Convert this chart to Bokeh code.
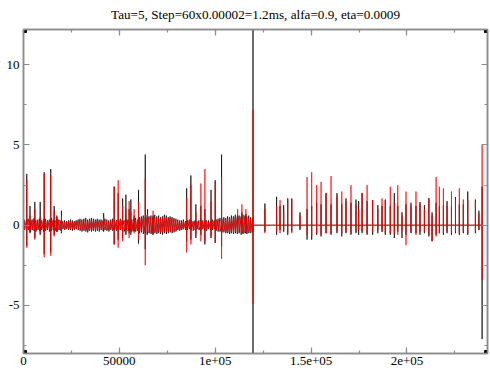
from bokeh.plotting import figure
from bokeh.models import Range1d, LinearAxis, SingleIntervalTicker, CustomJSTickFormatter
from bokeh.embed import file_html
from bokeh.resources import INLINE
import numpy as np

# ---------------- data ----------------
title_text = "Tau=5, Step=60x0.00002=1.2ms, alfa=0.9, eta=0.0009"
x_min, x_max = 0, 242000
y_min, y_max = -8.0, 12.2
x_tick_values = [0, 50000, 100000, 150000, 200000]
x_tick_labels = ["0", "50000", "1e+05", "1.5e+05", "2e+05"]
y_tick_values = [-5, 0, 5, 10]
y_tick_labels = ["-5", "0", "5", "10"]

# spike events (sample index), with peak / trough of each series
spike_x = [1700, 3400, 5900, 8700, 10800, 14200, 16000, 17400, 19800, 41800,
           47300, 49400, 51700, 53400, 55100, 56000, 57700, 60000, 63500, 64700,
           67600, 85100, 87300, 89900, 92500, 94600, 97800, 100000, 103300, 111700,
           113900, 116000, 119700, 125900, 132000, 133800, 135700, 137800, 139900, 144200,
           147900, 150300, 152900, 155200, 157800, 160400, 163500, 166000, 168200, 170800,
           173400, 174800, 176600, 179200, 182100, 184800, 187000, 188700, 191300, 193400,
           195200, 197400, 199500, 202100, 204700, 206800, 209100, 211400, 213100, 215200,
           216900, 219000, 220900, 223200, 225300, 227300, 229400, 231700, 235700, 237500,
           239200]
black_hi = [3.2, 1.2, 1.45, 1.45, 3.3, 3.5, 1.2, 0.6, 0.9, 0.75,
            2.4, 2.0, 1.67, 1.9, 1.0, 1.6, 0.6, 2.2, 4.4, 1.0,
            0.6, 2.3, 3.1, 1.3, 1.2, 1.0, 2.2, 2.8, 4.4, 0.6,
            0.8, 0.7, 14.0, 1.35, 1.77, 1.2, 1.25, 1.67, 1.67, 0.8,
            1.0, 1.2, 1.4, 1.3, 2.0, 1.3, 2.0, 1.3, 1.67, 1.4,
            1.6, 1.5, 2.0, 1.5, 1.56, 1.25, 1.2, 1.6, 1.2, 2.0,
            1.2, 0.8, 1.3, 1.4, 1.2, 1.45, 1.25, 1.7, 0.8, 1.4,
            1.2, 1.25, 1.5, 1.2, 1.75, 1.3, 1.3, 2.1, 1.6, 0.9,
            2.4]
black_lo = [-1.3, -0.5, -0.8, -0.6, -1.8, -1.7, -0.6, -0.4, -0.5, -0.4,
            -1.2, -0.9, -0.8, -0.6, -0.5, -0.6, -0.4, -1.15, -1.5, -0.5,
            -0.5, -1.0, -0.9, -0.8, -0.6, -1.2, -0.8, -1.1, -1.3, -0.4,
            -0.5, -0.5, -10.0, -0.4, -0.6, -0.3, -0.4, -0.6, -0.4, -0.3,
            -0.9, -0.9, -0.6, -0.7, -0.5, -0.6, -0.5, -0.7, -0.5, -0.6,
            -0.5, -0.6, -0.5, -0.6, -0.6, -0.5, -0.4, -0.6, -0.6, -0.8,
            -0.4, -0.8, -0.6, -0.5, -0.5, -0.6, -0.5, -0.7, -1.0, -0.6,
            -0.5, -0.6, -0.5, -0.6, -0.5, -0.6, -0.5, -0.6, -0.5, -0.3,
            -7.1]
red_hi = [2.8, 0.6, 1.0, 0.5, 3.2, 3.1, 0.9, 0.5, 0.6, 0.5,
          2.4, 2.8, 1.2, 1.0, 1.5, 0.8, 1.0, 1.45, 2.9, 0.7,
          0.9, 1.7, 2.5, 0.8, 2.6, 3.5, 1.5, 2.7, 3.0, 1.0,
          1.3, 1.0, 7.2, 1.0, 1.2, 1.56, 0.8, 1.6, 1.6, 0.6,
          3.0, 3.3, 2.5, 2.7, 2.0, 3.06, 1.8, 2.1, 1.5, 2.5,
          1.3, 1.0, 2.0, 2.5, 1.56, 1.0, 1.67, 1.56, 2.4, 1.4,
          2.5, 0.6, 2.1, 1.2, 2.1, 1.3, 1.0, 1.6, 0.6, 3.0,
          2.4, 2.3, 1.2, 2.1, 1.6, 2.3, 1.6, 1.6, 1.5, 0.7,
          5.0]
red_lo = [-1.4, -0.4, -0.9, -0.5, -2.0, -1.9, -0.7, -0.4, -0.4, -0.3,
          -1.2, -1.4, -1.0, -0.5, -0.8, -0.4, -0.5, -0.9, -2.5, -0.4,
          -0.6, -1.7, -1.2, -0.6, -1.0, -1.0, -0.7, -1.1, -2.1, -0.4,
          -0.5, -0.4, -4.9, -0.5, -0.4, -0.5, -0.3, -0.5, -0.5, -0.2,
          -0.6, -0.7, -0.5, -0.6, -0.5, -0.5, -0.4, -0.5, -0.4, -0.5,
          -0.4, -0.3, -0.4, -0.5, -0.4, -0.3, -0.4, -0.5, -0.5, -0.5,
          -0.6, -0.3, -1.25, -0.4, -0.6, -0.4, -0.4, -0.6, -1.0, -0.7,
          -0.5, -0.5, -0.4, -0.5, -0.4, -0.5, -0.4, -0.5, -0.4, -0.3,
          -3.4]

# dense low-level oscillation before the big event (one sample every 1000)
noise_x = np.arange(500, 120000, 1000)
black_noise_hi = [0.35, 0.3, 0.4, 0.3, 0.35, 0.45, 0.3, 0.35, 0.4, 0.3,
                  0.35, 0.4, 0.3, 0.35, 0.45, 0.35, 0.3, 0.4, 0.35, 0.3,
                  0.25, 0.3, 0.25, 0.3, 0.35, 0.3, 0.25, 0.3, 0.35, 0.4,
                  0.35, 0.4, 0.45, 0.35, 0.4, 0.45, 0.4, 0.35, 0.4, 0.35,
                  0.35, 0.3, 0.4, 0.35, 0.3, 0.35, 0.4, 0.35, 0.3, 0.35,
                  0.4, 0.35, 0.3, 0.4, 0.35, 0.3, 0.35, 0.4, 0.45, 0.35,
                  0.5, 0.55, 0.6, 0.5, 0.65, 0.55, 0.6, 0.5, 0.65, 0.55,
                  0.6, 0.5, 0.55, 0.65, 0.6, 0.5, 0.55, 0.5, 0.45, 0.4,
                  0.35, 0.3, 0.3, 0.35, 0.25, 0.3, 0.35, 0.3, 0.25, 0.3,
                  0.25, 0.3, 0.35, 0.3, 0.25, 0.3, 0.3, 0.25, 0.35, 0.3,
                  0.35, 0.4, 0.45, 0.4, 0.5, 0.45, 0.55, 0.5, 0.6, 0.55,
                  0.65, 0.55, 0.6, 0.55, 0.65, 0.6, 0.55, 0.6, 0.5, 0.45]
black_noise_lo = [-0.3, -0.35, -0.3, -0.4, -0.3, -0.35, -0.4, -0.3, -0.35, -0.3,
                  -0.4, -0.35, -0.3, -0.4, -0.35, -0.3, -0.35, -0.4, -0.3, -0.35,
                  -0.25, -0.3, -0.25, -0.3, -0.3, -0.35, -0.3, -0.25, -0.3, -0.35,
                  -0.4, -0.35, -0.4, -0.45, -0.35, -0.4, -0.35, -0.4, -0.35, -0.4,
                  -0.3, -0.35, -0.3, -0.35, -0.4, -0.3, -0.35, -0.3, -0.35, -0.4,
                  -0.3, -0.35, -0.4, -0.3, -0.35, -0.3, -0.4, -0.35, -0.4, -0.35,
                  -0.5, -0.45, -0.55, -0.5, -0.6, -0.5, -0.55, -0.6, -0.5, -0.55,
                  -0.5, -0.55, -0.6, -0.5, -0.55, -0.5, -0.45, -0.5, -0.45, -0.4,
                  -0.3, -0.35, -0.3, -0.25, -0.3, -0.3, -0.25, -0.3, -0.35, -0.3,
                  -0.25, -0.3, -0.3, -0.25, -0.3, -0.35, -0.25, -0.3, -0.3, -0.25,
                  -0.35, -0.4, -0.4, -0.45, -0.45, -0.5, -0.5, -0.55, -0.5, -0.55,
                  -0.5, -0.55, -0.5, -0.6, -0.55, -0.5, -0.55, -0.5, -0.5, -0.45]
red_noise_hi = [0.25, 0.2, 0.3, 0.25, 0.3, 0.35, 0.25, 0.3, 0.3, 0.25,
                0.3, 0.3, 0.25, 0.3, 0.35, 0.3, 0.25, 0.3, 0.3, 0.25,
                0.2, 0.2, 0.2, 0.25, 0.25, 0.2, 0.2, 0.25, 0.25, 0.3,
                0.25, 0.3, 0.3, 0.25, 0.3, 0.35, 0.3, 0.25, 0.3, 0.25,
                0.25, 0.25, 0.3, 0.25, 0.2, 0.25, 0.3, 0.25, 0.25, 0.3,
                0.3, 0.25, 0.25, 0.3, 0.25, 0.25, 0.3, 0.3, 0.35, 0.3,
                0.4, 0.45, 0.45, 0.4, 0.5, 0.45, 0.45, 0.4, 0.5, 0.45,
                0.45, 0.4, 0.45, 0.5, 0.45, 0.4, 0.45, 0.4, 0.35, 0.3,
                0.25, 0.25, 0.2, 0.25, 0.2, 0.2, 0.25, 0.25, 0.2, 0.25,
                0.2, 0.2, 0.25, 0.25, 0.2, 0.25, 0.2, 0.2, 0.25, 0.25,
                0.3, 0.3, 0.35, 0.3, 0.4, 0.35, 0.4, 0.4, 0.45, 0.45,
                0.5, 0.45, 0.45, 0.45, 0.5, 0.45, 0.45, 0.45, 0.4, 0.35]
red_noise_lo = [-0.25, -0.3, -0.25, -0.3, -0.25, -0.3, -0.3, -0.25, -0.3, -0.25,
                -0.3, -0.3, -0.25, -0.3, -0.3, -0.25, -0.3, -0.3, -0.25, -0.3,
                -0.2, -0.2, -0.2, -0.25, -0.2, -0.25, -0.25, -0.2, -0.25, -0.25,
                -0.3, -0.25, -0.3, -0.3, -0.25, -0.3, -0.25, -0.3, -0.25, -0.3,
                -0.25, -0.25, -0.25, -0.3, -0.3, -0.25, -0.25, -0.25, -0.3, -0.3,
                -0.25, -0.25, -0.3, -0.25, -0.25, -0.25, -0.3, -0.25, -0.3, -0.3,
                -0.4, -0.35, -0.45, -0.4, -0.45, -0.4, -0.45, -0.45, -0.4, -0.45,
                -0.4, -0.45, -0.45, -0.4, -0.45, -0.4, -0.35, -0.4, -0.35, -0.3,
                -0.25, -0.25, -0.25, -0.2, -0.25, -0.25, -0.2, -0.25, -0.25, -0.25,
                -0.2, -0.25, -0.25, -0.2, -0.25, -0.25, -0.2, -0.25, -0.25, -0.2,
                -0.3, -0.3, -0.35, -0.35, -0.35, -0.4, -0.4, -0.45, -0.4, -0.45,
                -0.4, -0.45, -0.4, -0.45, -0.45, -0.4, -0.45, -0.4, -0.4, -0.35]


def build_path(sx, hi, lo, nx, nhi, nlo):
    events = []
    for x, h, l in zip(sx, hi, lo):
        events.append((float(x), [0.0, h, l, 0.0]))
    for x, h, l in zip(nx, nhi, nlo):
        events.append((float(x), [h, l]))
    events.sort(key=lambda e: e[0])
    xs, ys = [], []
    for x, vals in events:
        for v in vals:
            xs.append(x)
            ys.append(v)
    return xs, ys


bx, by = build_path(spike_x, black_hi, black_lo, noise_x, black_noise_hi, black_noise_lo)
rx, ry = build_path(spike_x, red_hi, red_lo, noise_x, red_noise_hi, red_noise_lo)

FONT = "Liberation Serif"
FRAME = "#8c8c8c"

p = figure(width=490, height=373,
           x_range=Range1d(x_min, x_max), y_range=Range1d(y_min, y_max),
           output_backend="svg", toolbar_location=None,
           min_border_left=23, min_border_right=3,
           min_border_top=29, min_border_bottom=20,
           title=title_text)
p.title.text_font = FONT
p.title.text_font_size = "13.2px"
p.title.text_font_style = "normal"
p.title.align = "center"
p.title.vertical_align = "bottom"
p.title.text_color = "#000000"
p.title.standoff = 0

p.xgrid.visible = False
p.ygrid.visible = False
p.background_fill_color = "white"
p.border_fill_color = "white"
p.outline_line_color = FRAME
p.outline_line_width = 1.5


def style_axis(ax):
    ax.axis_line_color = FRAME
    ax.axis_line_width = 1.5
    ax.major_tick_line_color = FRAME
    ax.minor_tick_line_color = FRAME
    ax.major_tick_line_width = 1.2
    ax.minor_tick_line_width = 1.2
    ax.major_tick_in = 6
    ax.major_tick_out = 0
    ax.minor_tick_in = 3
    ax.minor_tick_out = 0
    ax.major_label_text_font = FONT
    ax.major_label_text_font_size = "13px"
    ax.major_label_text_color = "#000000"


xa = p.xaxis[0]
xa.ticker = SingleIntervalTicker(interval=50000, num_minor_ticks=2)
xa.major_label_overrides = dict(zip(x_tick_values, x_tick_labels))
xa.major_label_standoff = 3
style_axis(xa)

ya = p.yaxis[0]
ya.ticker = SingleIntervalTicker(interval=5, num_minor_ticks=2)
ya.major_label_overrides = dict(zip(y_tick_values, y_tick_labels))
ya.major_label_standoff = 4
style_axis(ya)

blank = CustomJSTickFormatter(code="return '';")
top_ax = LinearAxis(ticker=SingleIntervalTicker(interval=50000, num_minor_ticks=2),
                    formatter=blank, major_label_standoff=0)
style_axis(top_ax)
p.add_layout(top_ax, "above")

# invisible spacer between the mirrored top ticks and the title
spacer = LinearAxis(ticker=SingleIntervalTicker(interval=50000, num_minor_ticks=0),
                    formatter=blank, major_label_standoff=0,
                    major_tick_in=0, major_tick_out=8, minor_tick_in=0, minor_tick_out=0,
                    major_tick_line_color=None, minor_tick_line_color=None,
                    axis_line_color=None)
p.add_layout(spacer, "above")

right_ax = LinearAxis(ticker=SingleIntervalTicker(interval=5, num_minor_ticks=2),
                      formatter=blank, major_label_standoff=0)
style_axis(right_ax)
p.add_layout(right_ax, "right")

p.line(bx, by, line_color="#000000", line_width=0.7)
p.line(rx, ry, line_color="#ff0000", line_width=0.7)

# corner handles of the frame
p.scatter([x_min, x_max, x_min, x_max], [y_min, y_min, y_max, y_max],
          marker="square", size=6, fill_color="#000000", line_color="#000000")

open("out.html", "w").write(file_html(p, INLINE))
